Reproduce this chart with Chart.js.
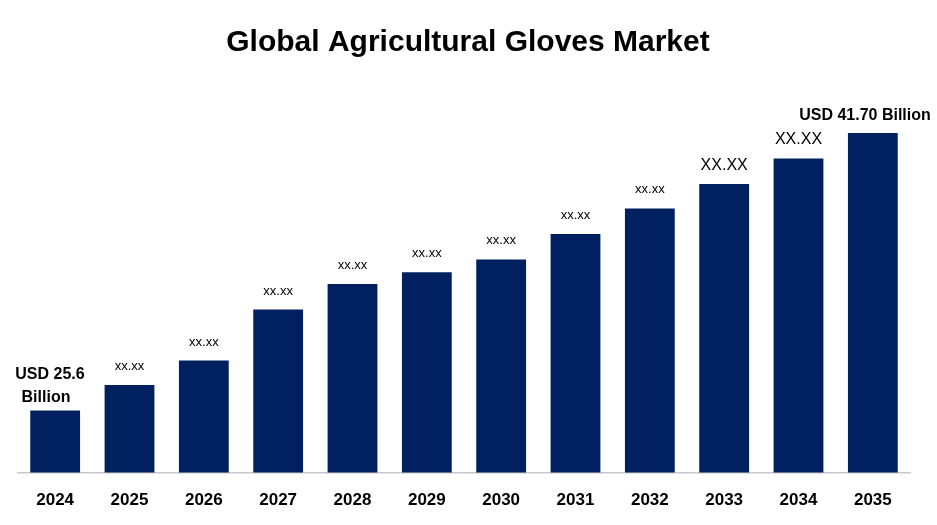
<!DOCTYPE html>
<html><head><meta charset="utf-8">
<script src="https://cdn.jsdelivr.net/npm/chart.js@4"></script>
<style>html,body{margin:0;padding:0;background:#fff}#w{width:937px;height:525px}</style>
</head><body><div id="w"><canvas id="c"></canvas></div>
<script>
const years = ['2024','2025','2026','2027','2028','2029','2030','2031','2032','2033','2034','2035'];
const values = [25.6,27.08,28.5,31.46,32.94,33.63,34.37,35.85,37.33,38.75,40.23,41.7];
const valueLabels = [['USD 25.6','Billion'],['xx.xx'],['xx.xx'],['xx.xx'],['xx.xx'],['xx.xx'],['xx.xx'],['xx.xx'],['xx.xx'],['XX.XX'],['XX.XX'],['USD 41.70 Billion']];
const title = 'Global Agricultural Gloves Market';
const FONT = '"Liberation Sans", Arial, sans-serif';
const labelPlugin = {
  id:'lbl',
  afterDraw(chart){
    const ctx = chart.ctx;
    ctx.save();
    ctx.fillStyle='#000';ctx.textAlign='center';ctx.textBaseline='alphabetic';
    ctx.font='bold 30px '+FONT;
    ctx.fillText(title, 468, 51);
    const meta = chart.getDatasetMeta(0);
    meta.data.forEach((b,i)=>{
      const l = valueLabels[i];
      if(i===0){
        ctx.font='bold 16px '+FONT;
        ctx.fillText(l[0], 50, 379); ctx.fillText(l[1], 46, 402);
      } else if(i===years.length-1){
        ctx.font='bold 16px '+FONT;
        ctx.fillText(l[0], 865, 120);
      } else if(l[0]==='XX.XX'){
        ctx.font='16px '+FONT;
        ctx.fillText(l[0], b.x, b.y-14);
      } else {
        ctx.font='13px '+FONT;
        ctx.fillText(l[0], b.x, b.y-15);
      }
    });
    ctx.restore();
  }
};
new Chart(document.getElementById('c'),{
  type:'bar',
  data:{labels:years,datasets:[{data:values,backgroundColor:'#00205f',barPercentage:0.67,categoryPercentage:1}]},
  options:{
    responsive:true,maintainAspectRatio:false,animation:false,
    layout:{padding:{top:80,left:18,right:27,bottom:-4}},
    plugins:{legend:{display:false},tooltip:{enabled:false}},
    scales:{
      x:{grid:{display:false,drawTicks:false},border:{color:'#c8c8c8',width:1.5},
         ticks:{color:'#000',font:{family:FONT,size:17,weight:'bold'},padding:18}},
      y:{display:false,min:22,max:44.78}
    }
  },
  plugins:[labelPlugin]
});
</script></body></html>
